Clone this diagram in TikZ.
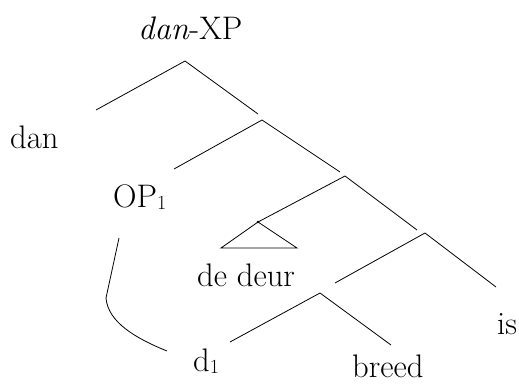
\documentclass[tikz,border=0pt]{standalone}
\newcommand{\subone}{\raisebox{-2pt}{\fontsize{20}{20}\selectfont 1}}
\begin{document}
\begin{tikzpicture}[x=1pt,y=-1pt,
  branch/.style={line width=0.8pt, black},
  lbl/.style={inner sep=0pt, anchor=base west, font=\fontsize{32.6}{38}\selectfont}]
\useasboundingbox (0,0) rectangle (519,383);
% labels
\node[lbl] (top) at (138,39) {\textit{dan}-XP};
\node[lbl] (dan) at (10,148) {dan};
\node[lbl] (op) at (113,207) {OP\subone};
\node[lbl] (deur) at (197,286) {de deur};
\node[lbl] (is) at (497,334) {is};
\node[lbl] (d1) at (193,371) {d\subone};
\node[lbl] (breed) at (352,377) {breed};
% tree points
\coordinate (a1) at (185,61);
\coordinate (a1L) at (96,110);
\coordinate (a1R) at (258,114);
\coordinate (a2) at (262,120);
\coordinate (a2L) at (174,169);
\coordinate (a2R) at (340,172);
\coordinate (a3) at (345,176);
\coordinate (t) at (258,222);
\coordinate (tl) at (221,248);
\coordinate (tr) at (297,248);
\coordinate (a3R) at (417,230);
\coordinate (a4) at (425,233);
\coordinate (a4L) at (335,283);
\coordinate (a4R) at (496,287);
\coordinate (a5) at (320,293);
\coordinate (a5L) at (230,342);
\coordinate (a5R) at (391,345);
\coordinate (c1) at (119,238);
\coordinate (c2) at (106,298);
\coordinate (c3) at (167,351);
% branches
\draw[branch] (a1L) -- (a1) -- (a1R);
\draw[branch] (a2L) -- (a2) -- (a2R);
\draw[branch] (t) -- (a3) -- (a3R);
\draw[branch] (tl) -- (t) -- (tr) -- cycle;
\draw[branch] (a4L) -- (a4) -- (a4R);
\draw[branch] (a5L) -- (a5) -- (a5R);
\fill (t) circle (1.3pt);
% movement curve
\draw[branch] (c1) -- (c2) .. controls (108,322) and (135,338) .. (c3);
\end{tikzpicture}
\end{document}
